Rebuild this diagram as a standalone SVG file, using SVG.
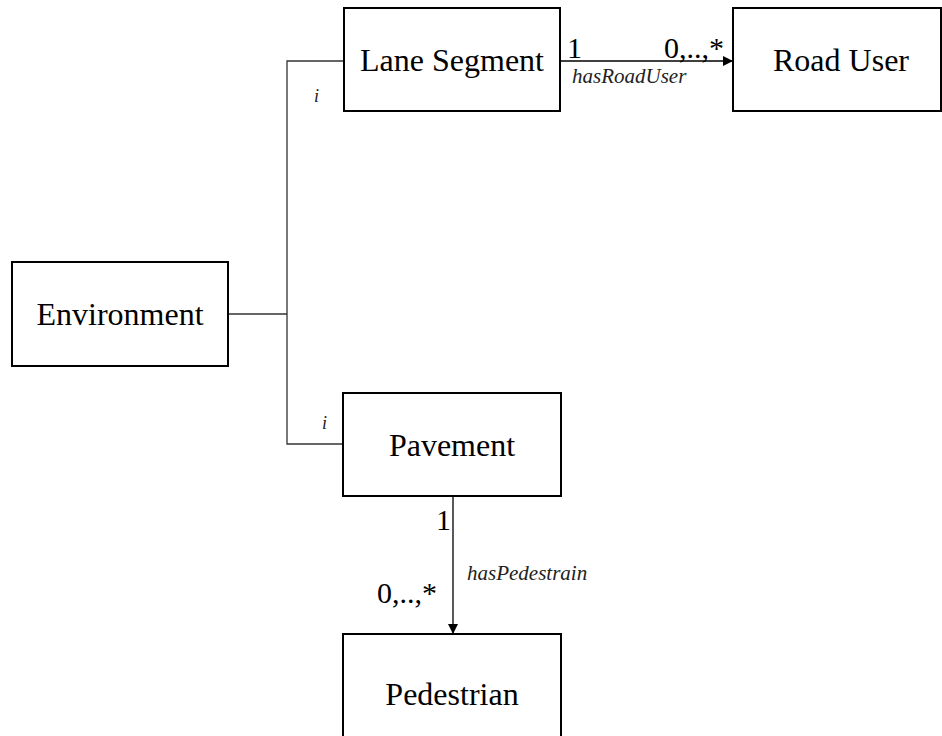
<svg xmlns="http://www.w3.org/2000/svg" width="942" height="736" viewBox="0 0 942 736">
  <style>
    .box { fill: #ffffff; stroke: #000000; stroke-width: 2; }
    .name { font-family: "Liberation Serif", "Times New Roman", serif; font-size: 32px; fill: #000000; text-anchor: middle; }
    .mult { font-family: "Liberation Serif", "Times New Roman", serif; font-size: 30px; fill: #000000; }
    .role { font-family: "Liberation Serif", "Times New Roman", serif; font-size: 21px; font-style: italic; fill: #222222; }
    .tag { font-family: "Liberation Serif", "Times New Roman", serif; font-size: 18px; font-style: italic; fill: #222222; }
    .link { fill: none; stroke: #333333; stroke-width: 1.3; }
    .assoc { fill: none; stroke: #000000; stroke-width: 1.3; }
  </style>
  <defs>
    <marker id="head" viewBox="0 0 10 10" refX="10" refY="5" markerWidth="10" markerHeight="10" markerUnits="userSpaceOnUse" orient="auto">
      <path d="M0,0 L10,5 L0,10 Z" fill="#000000"/>
    </marker>
  </defs>

  <!-- connectors and their labels -->
  <g id="connectors">
    <path class="link" d="M228,314 H287"/>
    <path class="link" d="M344,61 H287 V444 H343"/>
    <path class="assoc" d="M560,61 H733" marker-end="url(#head)"/>
    <path class="assoc" d="M453,496 V634" marker-end="url(#head)"/>
    <text class="tag" x="314" y="102">i</text>
    <text class="tag" x="322" y="429">i</text>
    <text class="mult" x="567" y="58">1</text>
    <text class="mult" x="664" y="58">0,..,*</text>
    <text class="role" x="572" y="83">hasRoadUser</text>
    <text class="mult" x="436" y="530">1</text>
    <text class="role" x="467" y="580">hasPedestrain</text>
    <text class="mult" x="377" y="603">0,..,*</text>
  </g>

  <g id="environment">
    <rect class="box" x="12" y="262" width="216" height="104"/>
    <text class="name" x="120" y="325">Environment</text>
  </g>

  <g id="lane-segment">
    <rect class="box" x="344" y="8" width="216" height="103"/>
    <text class="name" x="452" y="71">Lane Segment</text>
  </g>

  <g id="road-user">
    <rect class="box" x="733" y="8" width="208" height="103"/>
    <text class="name" x="841" y="71">Road User</text>
  </g>

  <g id="pavement">
    <rect class="box" x="343" y="393" width="218" height="103"/>
    <text class="name" x="452" y="456">Pavement</text>
  </g>

  <g id="pedestrian">
    <rect class="box" x="343" y="634" width="218" height="110"/>
    <text class="name" x="452" y="705">Pedestrian</text>
  </g>
</svg>
